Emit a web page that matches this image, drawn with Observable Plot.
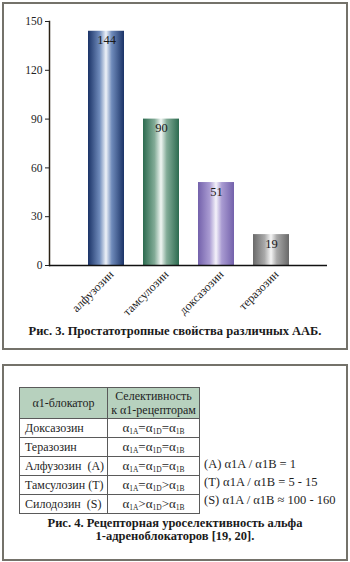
<!DOCTYPE html>
<html><head><meta charset="utf-8">
<script src="https://cdn.jsdelivr.net/npm/d3@7"></script>
<script src="https://cdn.jsdelivr.net/npm/@observablehq/plot@0.6"></script>
<style>
html,body{margin:0;padding:0;background:#fff;}
body{width:350px;height:562px;position:relative;overflow:hidden;font-family:"Liberation Serif","DejaVu Serif",serif;color:#1e1e1e;}
.frame{position:absolute;box-sizing:border-box;border:2px solid #74726a;}
#chart{position:absolute;left:0;top:0;}
.cap{position:absolute;left:0;width:350px;text-align:center;font-weight:bold;font-size:12.5px;line-height:13px;color:#1a1a1a;}
table{position:absolute;left:19px;top:387px;border-collapse:collapse;font-size:12px;color:#1e1e1e;table-layout:fixed;}
td{border:1px solid #5a5a5a;padding:0;height:17px;line-height:17px;box-sizing:border-box;overflow:hidden;}
td.c1{width:88px;padding-left:5px;white-space:nowrap;}
td.c2{width:92px;text-align:center;white-space:nowrap;}
td.c2 .f{font-size:13px;}
tr.h td{background:#b7d1be;height:31px;line-height:14px;}
tr.h td.c1{text-align:center;padding-left:0;}
sub{font-size:7.5px;vertical-align:-2px;line-height:0;}
.ratio{position:absolute;left:204px;font-size:12.5px;line-height:18px;color:#1e1e1e;white-space:nowrap;}
</style></head>
<body>
<div class="frame" style="left:2px;top:2px;width:346px;height:348px;"></div>
<div class="frame" style="left:2px;top:364px;width:346px;height:197px;"></div>
<div id="chart"></div>
<div class="cap" style="top:325px;">Рис. 3. Простатотропные свойства различных ААБ.</div>
<div id="tbl"></div>
<div class="cap" style="top:517px;">Рис. 4. Рецепторная уроселективность альфа<br>1-адреноблокаторов [19, 20].</div>
<script>
// --- chart data ---
const categories = ["алфузозин", "тамсулозин", "доксазозин", "теразозин"];
const values = [144, 90, 51, 19];
const yTicks = [0, 30, 60, 90, 120, 150];
// --- table data ---
const headers = ["α1-блокатор", "Селективность<br>к α1-рецепторам"];
const blockers = ["Доксазозин", "Теразозин", "Алфузозин&nbsp; (А)", "Тамсулозин (Т)", "Силодозин&nbsp; (S)"];
const selectivity = [
  ["=", "="], ["=", "="], ["=", "="], ["=", ">"], [">", ">"]
];
const ratios = ["", "", "(A) α1A / α1B = 1", "(T) α1A / α1B = 5 - 15", "(S) α1A / α1B ≈ 100 - 160"];

// gradient palette (dark edge, mid, highlight)
const palette = [
  ["#1b3367", "#6f8bbb", "#eef2f8"],
  ["#2c6b4f", "#82ab97", "#f1f6f3"],
  ["#7361ab", "#a99bd2", "#f4f2fa"],
  ["#696969", "#a9a9a9", "#f5f5f5"]
];

const data = categories.map((c, i) => ({name: c, value: values[i], grad: `url(#barg${i})`}));

const chart = Plot.plot({
  width: 350, height: 322,
  marginLeft: 49, marginRight: 23, marginTop: 21, marginBottom: 57,
  style: {fontFamily: "'Liberation Serif', serif", fontSize: "11px", background: "transparent", color: "#222"},
  x: {domain: categories, paddingInner: 0.35, paddingOuter: 0.685, label: null},
  y: {domain: [0, 150], label: null},
  color: {type: "identity"},
  marks: [
    Plot.barY(data, {x: "name", y: "value", fill: "grad", inset: 0}),
    Plot.text(data, {x: "name", y: "value", text: d => String(d.value), dy: 9, fontSize: 12.5, fill: "#1a1a1a"}),
    Plot.frame({anchor: "left", stroke: "#2b2215", strokeWidth: 1.5}),
    Plot.ruleY([0], {stroke: "#111", strokeWidth: 1.5}),
    Plot.axisY({ticks: yTicks, tickSize: 4, tickPadding: 3, label: null, fontSize: 11.5, stroke: "#222"}),
    Plot.axisX({tickSize: 0, tickRotate: -45, tickPadding: 4, label: null, fontSize: 12, dx: 5, dy: 3})
  ]
});

// gradient defs
const svg = d3.select(chart);
const defs = svg.insert("defs", ":first-child");
palette.forEach((p, i) => {
  const g = defs.append("linearGradient").attr("id", `barg${i}`).attr("x1", "0").attr("x2", "1").attr("y1", "0").attr("y2", "0");
  [[0, p[0]], [0.32, p[1]], [0.5, p[2]], [0.66, p[1]], [1, p[0]]].forEach(([o, c]) =>
    g.append("stop").attr("offset", o).attr("stop-color", c));
});
document.getElementById("chart").appendChild(chart);

// table
let html = `<table><tr class="h"><td class="c1">${headers[0]}</td><td class="c2">${headers[1]}</td></tr>`;
blockers.forEach((b, i) => {
  const [s1, s2] = selectivity[i];
  html += `<tr><td class="c1">${b}</td><td class="c2"><span class="f">α<sub>1A</sub>${s1}α<sub>1D</sub>${s2}α<sub>1B</sub></span></td></tr>`;
});
html += `</table>`;
const rowTops = [419, 437, 455, 473, 491];
ratios.forEach((r, i) => {
  if (r) html += `<div class="ratio" style="top:${rowTops[i]}px;">${r}</div>`;
});
document.getElementById("tbl").innerHTML = html;
</script>
</body></html>
